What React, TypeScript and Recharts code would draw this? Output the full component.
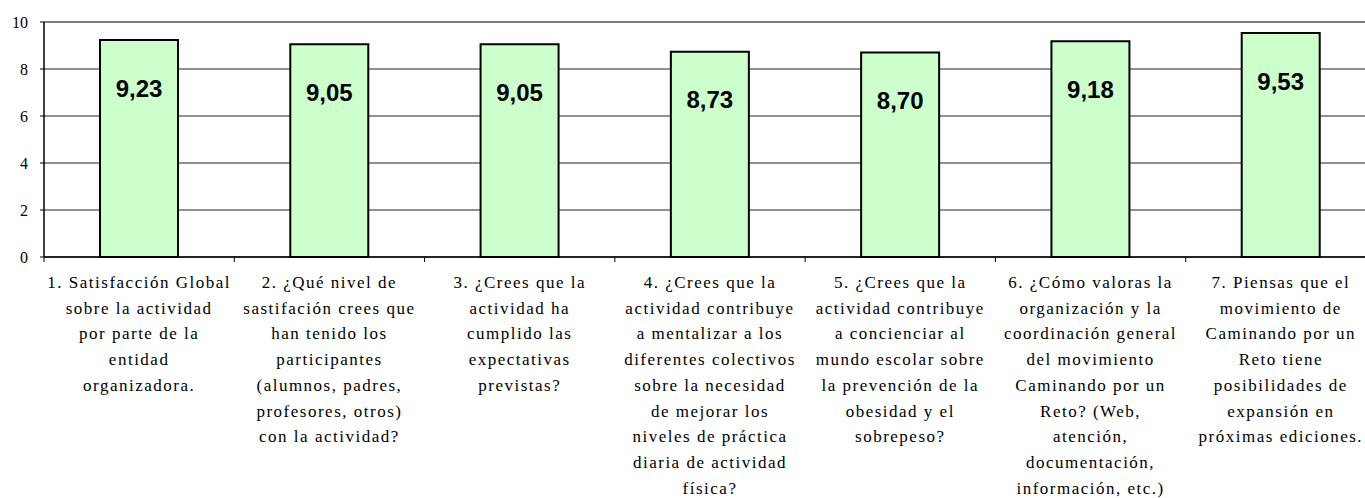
import React from "react"
import { Bar, BarChart, CartesianGrid, LabelList, ReferenceLine, XAxis, YAxis } from "recharts"

const categories = [
  "1. Satisfacción Global\nsobre la actividad\npor parte de la\nentidad\norganizadora.",
  "2. ¿Qué nivel de\nsastifación crees que\nhan tenido los\nparticipantes\n(alumnos, padres,\nprofesores, otros)\ncon la actividad?",
  "3. ¿Crees que la\nactividad ha\ncumplido las\nexpectativas\nprevistas?",
  "4. ¿Crees que la\nactividad contribuye\na mentalizar a los\ndiferentes colectivos\nsobre la necesidad\nde mejorar los\nniveles de práctica\ndiaria de actividad\nfísica?",
  "5. ¿Crees que la\nactividad contribuye\na concienciar al\nmundo escolar sobre\nla prevención de la\nobesidad y el\nsobrepeso?",
  "6. ¿Cómo valoras la\norganización y la\ncoordinación general\ndel movimiento\nCaminando por un\nReto? (Web,\natención,\ndocumentación,\ninformación, etc.)",
  "7. Piensas que el\nmovimiento de\nCaminando por un\nReto tiene\nposibilidades de\nexpansión en\npróximas ediciones.",
]
const scores = [9.23, 9.05, 9.05, 8.73, 8.7, 9.18, 9.53]
const yTicks = [0, 2, 4, 6, 8, 10]

const data = categories.map((name, i) => ({ name, score: scores[i] }))

const W = 1380
const H = 498
const margin = { top: 22, right: 4, bottom: 0, left: 0 }
const Y_AXIS_W = 44
const X_AXIS_H = 241
const bandW = (W - margin.left - margin.right - Y_AXIS_W) / categories.length
const serif = "'Liberation Serif', 'Times New Roman', serif"

const CategoryTick = (props: any) => {
  const { x, y, payload } = props
  const lines = String(payload.value).split("\n")
  return (
    <g>
      <line x1={x - bandW / 2} x2={x - bandW / 2} y1={y} y2={y + 5} stroke="#000" strokeWidth={1} />
      <text x={x} y={y} textAnchor="middle" fontFamily={serif} fontSize={17} letterSpacing={1.5} fill="#000">
        {lines.map((l, i) => (
          <tspan key={i} x={x} dy={i === 0 ? 31 : 25.7}>
            {l}
          </tspan>
        ))}
      </text>
    </g>
  )
}

const ScoreLabel = (props: any) => {
  const { x, y, width, value } = props
  return (
    <text
      x={x + width / 2}
      y={y + 48}
      textAnchor="middle"
      dominantBaseline="central"
      fontFamily="'Liberation Sans', Arial, sans-serif"
      fontWeight="bold"
      fontSize={24}
      fill="#000"
    >
      {Number(value).toFixed(2).replace(".", ",")}
    </text>
  )
}

export default function App() {
  return (
    <div style={{ position: "absolute", left: 0, top: 0, width: 1365, height: 498, overflow: "hidden", background: "#fff" }}>
      <BarChart width={W} height={H} data={data} margin={margin} barSize={78}>
        <CartesianGrid vertical={false} stroke="#222" strokeWidth={1} />
        <XAxis
          dataKey="name"
          interval={0}
          height={X_AXIS_H}
          tickLine={false}
          tickSize={0}
          tickMargin={0}
          axisLine={{ stroke: "#000", strokeWidth: 1.5 }}
          tick={<CategoryTick />}
        />
        <YAxis
          domain={[0, 10]}
          ticks={yTicks}
          width={Y_AXIS_W}
          tickSize={4}
          tickMargin={12}
          axisLine={{ stroke: "#000", strokeWidth: 1.5 }}
          tickLine={{ stroke: "#000" }}
          tick={{ fontFamily: serif, fontSize: 16, fill: "#000" }}
        />
        <ReferenceLine y={10} stroke="#808080" strokeWidth={2} />
        <Bar dataKey="score" fill="#CCFFCC" stroke="#000" strokeWidth={2} isAnimationActive={false}>
          <LabelList dataKey="score" content={<ScoreLabel />} />
        </Bar>
      </BarChart>
    </div>
  )
}
